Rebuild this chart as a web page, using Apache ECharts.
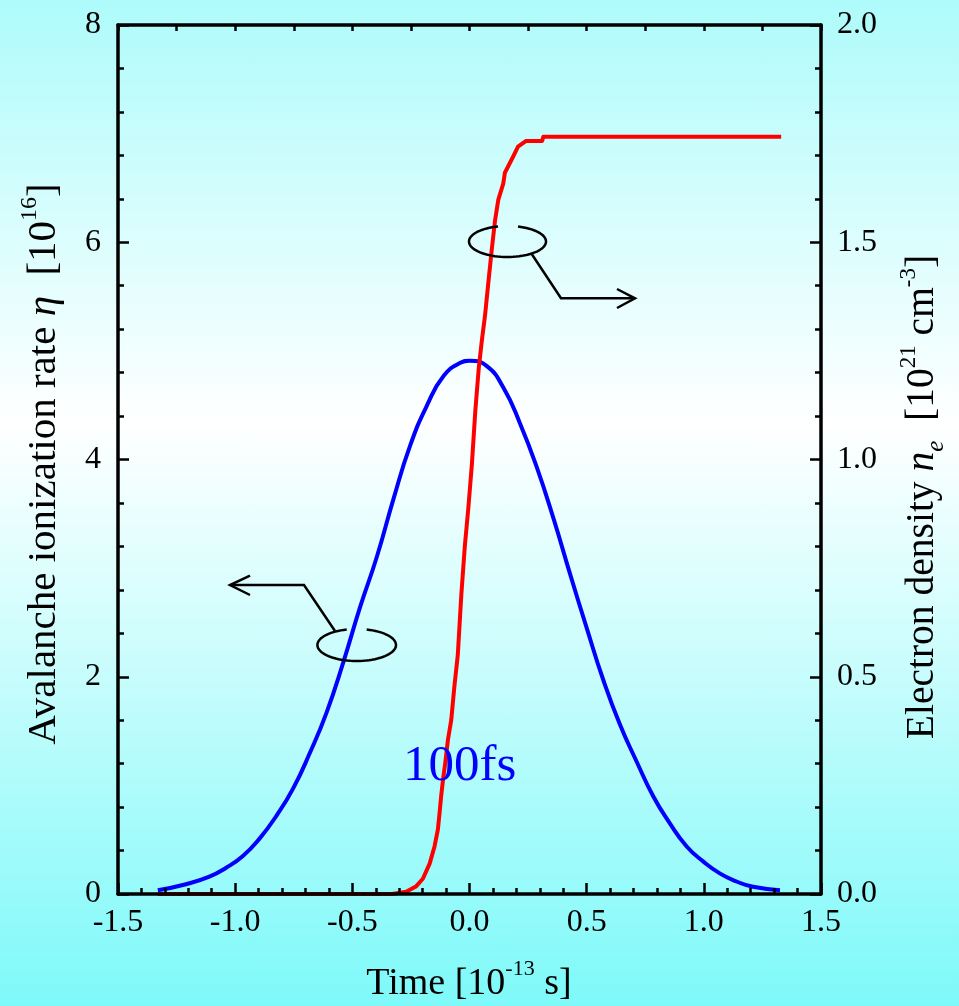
<!DOCTYPE html>
<html>
<head>
<meta charset="utf-8">
<script src="https://cdn.jsdelivr.net/npm/echarts@6/dist/echarts.min.js"></script>
<style>
html,body{margin:0;padding:0;}
#c{width:959px;height:1006px;background:linear-gradient(to bottom,#aefbfb 0%,#ffffff 42%,#7ef9f9 100%);}
</style>
</head>
<body>
<div id="c"></div>
<script>
// ---- data ----
const xRange = [-1.5, 1.5];
const leftRange = [0, 8];
const rightRange = [0, 2];
const xTickLabels = ['-1.5', '-1.0', '-0.5', '0.0', '0.5', '1.0', '1.5'];

// Avalanche ionization rate eta [10^16] (left axis)
const blueTime = [-1.33, -1.21, -1.11, -1.04, -0.967, -0.896, -0.824, -0.753, -0.681, -0.61, -0.539, -0.467, -0.396, -0.324, -0.253, -0.181, -0.11, -0.039, 0, 0.074, 0.145, 0.216, 0.287, 0.358, 0.43, 0.5, 0.571, 0.642, 0.713, 0.784, 0.855, 0.926, 0.997, 1.068, 1.14, 1.21, 1.325];
const blueRate = [0.035, 0.09, 0.16, 0.24, 0.35, 0.51, 0.72, 0.97, 1.3, 1.67, 2.13, 2.64, 3.1, 3.64, 4.13, 4.5, 4.77, 4.89, 4.91, 4.86, 4.66, 4.33, 3.93, 3.46, 2.94, 2.45, 1.97, 1.56, 1.22, 0.9, 0.65, 0.44, 0.3, 0.19, 0.115, 0.066, 0.035];

// Electron density n_e [10^21 cm^-3] (right axis)
const redTime = [-1.33, -0.33, -0.27, -0.227, -0.199, -0.17, -0.149, -0.135, -0.128, -0.121, -0.113, -0.102, -0.092, -0.078, -0.065, -0.05, -0.035, -0.02, -0.005, 0.01, 0.025, 0.04, 0.053, 0.066, 0.08, 0.095, 0.109, 0.123, 0.144, 0.151, 0.187, 0.207, 0.24, 0.31, 0.315, 1.33];
const redDensity = [0, 0, 0.005, 0.018, 0.035, 0.07, 0.11, 0.148, 0.185, 0.225, 0.263, 0.308, 0.355, 0.4, 0.475, 0.55, 0.688, 0.8, 0.888, 0.988, 1.113, 1.213, 1.275, 1.33, 1.405, 1.483, 1.55, 1.598, 1.635, 1.66, 1.698, 1.72, 1.733, 1.733, 1.743, 1.743];

// ---- chart ----
const FONT = "'Liberation Serif','Times New Roman',serif";
const chart = echarts.init(document.getElementById('c'), null, {renderer: 'canvas'});

const axisLine = {show: true, onZero: false, lineStyle: {color: '#000', width: 3.5}};
const majTick = (len) => ({show: true, inside: true, length: len, lineStyle: {color: '#000', width: 2.5}});
const minTick = {show: true, splitNumber: 5, length: 6, lineStyle: {color: '#000', width: 2.5}};
const lbl = (fmt, margin) => ({show: true, formatter: fmt, fontFamily: FONT, fontSize: 32, color: '#000', margin: margin});

const richFor = (fs) => ({
  a: {fontFamily: FONT, fontSize: fs, lineHeight: 52, color: '#000'},
  i: {fontFamily: FONT, fontSize: fs, lineHeight: 52, fontStyle: 'italic', color: '#000'},
  s: {fontFamily: FONT, fontSize: Math.round(fs * 0.58), lineHeight: 22, verticalAlign: 'top', color: '#000'},
  b: {fontFamily: FONT, fontSize: Math.round(fs * 0.63), lineHeight: 24, verticalAlign: 'bottom', fontStyle: 'italic', color: '#000'}
});

// open ellipse outline (annotation) with a gap at the top
function ellipseArc(cx, cy, rx, ry, a0, a1) {
  const pts = [];
  const n = 72;
  for (let k = 0; k <= n; k++) {
    const a = a0 + (a1 - a0) * k / n;
    pts.push([cx + rx * Math.cos(a), cy + ry * Math.sin(a)]);
  }
  return pts;
}
const stroke = {fill: 'none', stroke: '#000', lineWidth: 2.5};

const option = {
  animation: false,
  backgroundColor: 'transparent',
  grid: {left: 118, right: 138, top: 25, bottom: 112, containLabel: false},
  xAxis: [
    {
      type: 'value', position: 'bottom', min: xRange[0], max: xRange[1], interval: 0.5, z: 6,
      axisLine: axisLine, axisTick: majTick(11), minorTick: minTick,
      splitLine: {show: false}, minorSplitLine: {show: false},
      axisLabel: lbl(function (v) { const i = Math.round((v - xRange[0]) / 0.5); return xTickLabels[i] !== undefined ? xTickLabels[i] : v.toFixed(1); }, 13)
    },
    {
      type: 'value', position: 'top', min: xRange[0], max: xRange[1], interval: 0.25, z: 6,
      axisLine: axisLine, axisTick: majTick(6), minorTick: {show: false},
      splitLine: {show: false}, axisLabel: {show: false}
    }
  ],
  yAxis: [
    {
      type: 'value', position: 'left', min: leftRange[0], max: leftRange[1], interval: 2, z: 6,
      axisLine: axisLine, axisTick: majTick(11), minorTick: minTick,
      splitLine: {show: false}, minorSplitLine: {show: false},
      axisLabel: lbl(function (v) { return String(Math.round(v)); }, 17)
    },
    {
      type: 'value', position: 'right', min: rightRange[0], max: rightRange[1], interval: 0.5, z: 6,
      axisLine: axisLine, axisTick: majTick(11), minorTick: minTick,
      splitLine: {show: false}, minorSplitLine: {show: false},
      axisLabel: lbl(function (v) { return v.toFixed(1); }, 16)
    }
  ],
  series: [
    {
      type: 'line', xAxisIndex: 0, yAxisIndex: 0, z: 3,
      data: blueTime.map((t, i) => [t, blueRate[i]]),
      showSymbol: false, smooth: 0.5,
      lineStyle: {color: '#0000ff', width: 4}
    },
    {
      type: 'line', xAxisIndex: 0, yAxisIndex: 1, z: 4,
      data: redTime.map((t, i) => [t, redDensity[i]]),
      showSymbol: false, smooth: false,
      lineStyle: {color: '#ff0000', width: 4, join: 'round'}
    }
  ],
  graphic: [
    // annotation for red curve (right axis)
    {type: 'polyline', z: 50, shape: {points: ellipseArc(507.5, 241.5, 38.5, 15.5, -1.294, 4.463)}, style: stroke},
    {type: 'polyline', z: 50, shape: {points: [[531.7, 254], [561, 298.3], [635, 298.3]]}, style: stroke},
    {type: 'polyline', z: 50, shape: {points: [[617, 289], [635, 298.3], [617, 308]]}, style: stroke},
    // annotation for blue curve (left axis)
    {type: 'polyline', z: 50, shape: {points: ellipseArc(356.7, 645, 39.3, 16, -1.314, 4.456)}, style: stroke},
    {type: 'polyline', z: 50, shape: {points: [[335, 631], [304, 585], [230, 585]]}, style: stroke},
    {type: 'polyline', z: 50, shape: {points: [[250, 575.7], [230, 585], [250, 595]]}, style: stroke},
    // 100fs label
    {type: 'text', z: 50, x: 403, y: 767, style: {text: '100fs', fill: '#0000ff', fontFamily: FONT, fontSize: 51, align: 'left', verticalAlign: 'middle'}},
    // x axis title
    {type: 'text', z: 50, x: 469, y: 984, style: {text: '{a|Time [10}{s|-13}{a| s]}', rich: richFor(38), align: 'center', verticalAlign: 'middle'}},
    // left axis title
    {type: 'text', z: 50, x: 44, y: 464, rotation: Math.PI / 2, style: {text: '{a|Avalanche ionization rate }{i|η}{a|  [10}{s|16}{a|]}', rich: richFor(41), align: 'center', verticalAlign: 'middle'}},
    // right axis title
    {type: 'text', z: 50, x: 923, y: 497, rotation: Math.PI / 2, style: {text: '{a|Electron density }{i|n}{b|e}{a|  [10}{s|21}{a| cm}{s|-3}{a|]}', rich: richFor(39.5), align: 'center', verticalAlign: 'middle'}}
  ]
};
chart.setOption(option);
</script>
</body>
</html>
